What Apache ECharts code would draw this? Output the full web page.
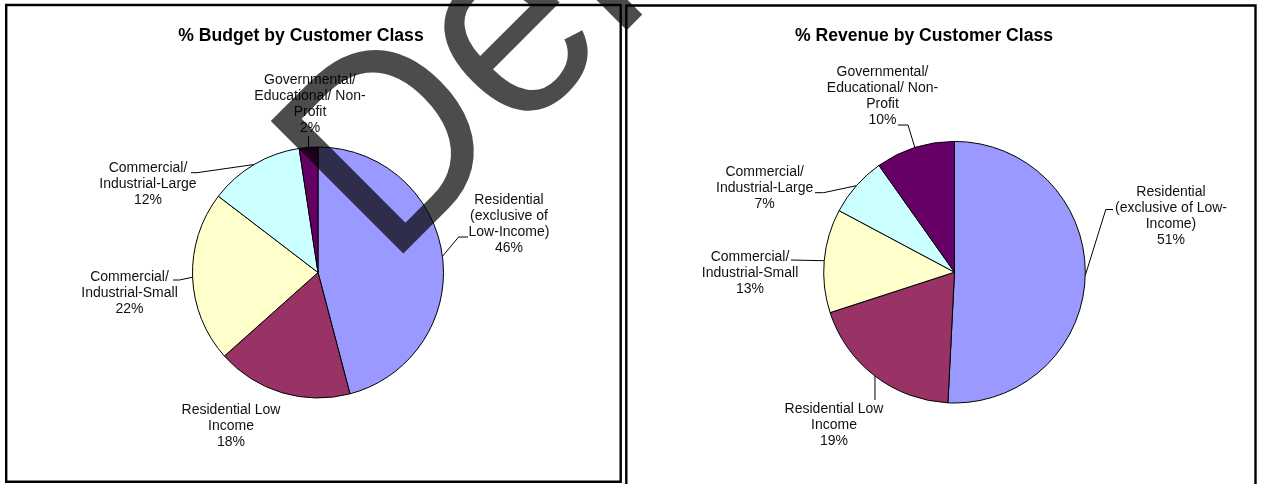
<!DOCTYPE html>
<html>
<head>
<meta charset="utf-8">
<script src="https://cdn.jsdelivr.net/npm/echarts@6/dist/echarts.min.js"></script>
<style>html,body{margin:0;padding:0;background:#fff}#c{width:1261px;height:484px}</style>
</head>
<body>
<div id="c"></div>
<script>
// ---- data ----
const categories = ['Residential (exclusive of Low-Income)', 'Residential Low Income', 'Commercial/ Industrial-Small', 'Commercial/ Industrial-Large', 'Governmental/ Educational/ Non-Profit'];
const budgetShare = [45.9, 17.5, 22.0, 12.2, 2.4];
const revenueShare = [50.8, 19.2, 12.8, 7.4, 9.8];
const budgetLabels = ['Residential\n(exclusive of\nLow-Income)', 'Residential Low\nIncome', 'Commercial/\nIndustrial-Small', 'Commercial/\nIndustrial-Large', 'Governmental/\nEducational/ Non-\nProfit'];
const revenueLabels = ['Residential\n(exclusive of Low-\nIncome)', 'Residential Low\nIncome', 'Commercial/\nIndustrial-Small', 'Commercial/\nIndustrial-Large', 'Governmental/\nEducational/ Non-\nProfit'];
const titles = ['% Budget by Customer Class', '% Revenue by Customer Class'];
const watermarkText = 'Deliberative';

// ---- styles / layout ----
const colors = ['#9999FF', '#993366', '#FFFFCC', '#CCFFFF', '#660066'];
const FONT = "'Liberation Sans', Arial, Helvetica, sans-serif";

// label placement (Excel-like) : label centre and leader-line points (null = use anchor coordinate)
const budgetLabelLayout = [
  {x: 509, y: 224, line: [[458.6, 237], [468, 237]]},
  {x: 231, y: 426.5, line: null},
  {x: 129.5, y: 293, line: [[179.5, 280], [173, 280]]},
  {x: 148, y: 184.3, line: [[197, 172.7], [191, 172.7]]},
  {x: 310, y: 104.5, line: [[null, 136]]}
];
const revenueLabelLayout = [
  {x: 1171, y: 216, line: [[1105.8, 209.5], [1113, 209.5]]},
  {x: 834, y: 425, line: [[null, 400]]},
  {x: 750, y: 272.7, line: [[791, 260]]},
  {x: 764.7, y: 188, line: [[823.5, 192.7], [815, 192.7]]},
  {x: 882.5, y: 96, line: [[908, 125], [898, 125]]}
];

function pieSeries(values, labels, layout, center, radius) {
  return {
    type: 'pie',
    center: center,
    radius: radius,
    startAngle: 90,
    clockwise: true,
    avoidLabelOverlap: false,
    silent: true,
    animation: false,
    color: colors,
    data: values.map((v, i) => ({
      name: categories[i],
      value: v,
      labelLine: {show: !!layout[i].line}
    })),
    itemStyle: {borderColor: '#000', borderWidth: 1},
    label: {
      show: true,
      position: 'outside',
      formatter: p => labels[p.dataIndex] + '\n' + Math.round(p.value) + '%',
      fontFamily: FONT,
      fontSize: 14,
      lineHeight: 16,
      color: '#111',
      align: 'center'
    },
    labelLine: {show: true, length: 8, length2: 8, lineStyle: {color: '#000', width: 1}},
    labelLayout: function (params) {
      const L = layout[params.dataIndex];
      const res = {x: L.x, y: L.y, align: 'center', verticalAlign: 'middle'};
      if (L.line && params.labelLinePoints) {
        const a = params.labelLinePoints[0];
        const pts = [[a[0], a[1]]];
        L.line.forEach(p => pts.push([p[0] == null ? a[0] : p[0], p[1] == null ? a[1] : p[1]]));
        res.labelLinePoints = pts;
      }
      return res;
    },
    emphasis: {disabled: true}
  };
}

const chart = echarts.init(document.getElementById('c'), null, {renderer: 'canvas'});
chart.setOption({
  backgroundColor: '#fff',
  animation: false,
  title: titles.map((t, i) => ({
    text: t,
    left: [301, 924][i],
    top: 27,
    textAlign: 'center',
    padding: 0,
    textStyle: {fontFamily: FONT, fontSize: 17.6, fontWeight: 'bold', color: '#000'}
  })),
  series: [
    pieSeries(budgetShare, budgetLabels, budgetLabelLayout, [318, 272.5], 125.5),
    pieSeries(revenueShare, revenueLabels, revenueLabelLayout, [954.5, 272.2], 130.8)
  ],
  graphic: [
    {type: 'rect', silent: true, z: 0, shape: {x: 6.2, y: 5, width: 614.5, height: 476.8}, style: {fill: null, stroke: '#000', lineWidth: 2.4}},
    {type: 'rect', silent: true, z: 0, shape: {x: 626.3, y: 5.5, width: 629.2, height: 500}, style: {fill: null, stroke: '#000', lineWidth: 2.4}},
    {type: 'text', silent: true, z: 100, x: 335.7, y: 214.9, rotation: Math.PI / 4, scaleX: 1, scaleY: 1.09,
     style: {text: watermarkText, fontFamily: FONT, fontSize: 250, fill: 'rgba(0,0,0,0.7)', align: 'left', verticalAlign: 'middle'}}
  ]
});
</script>
</body>
</html>
